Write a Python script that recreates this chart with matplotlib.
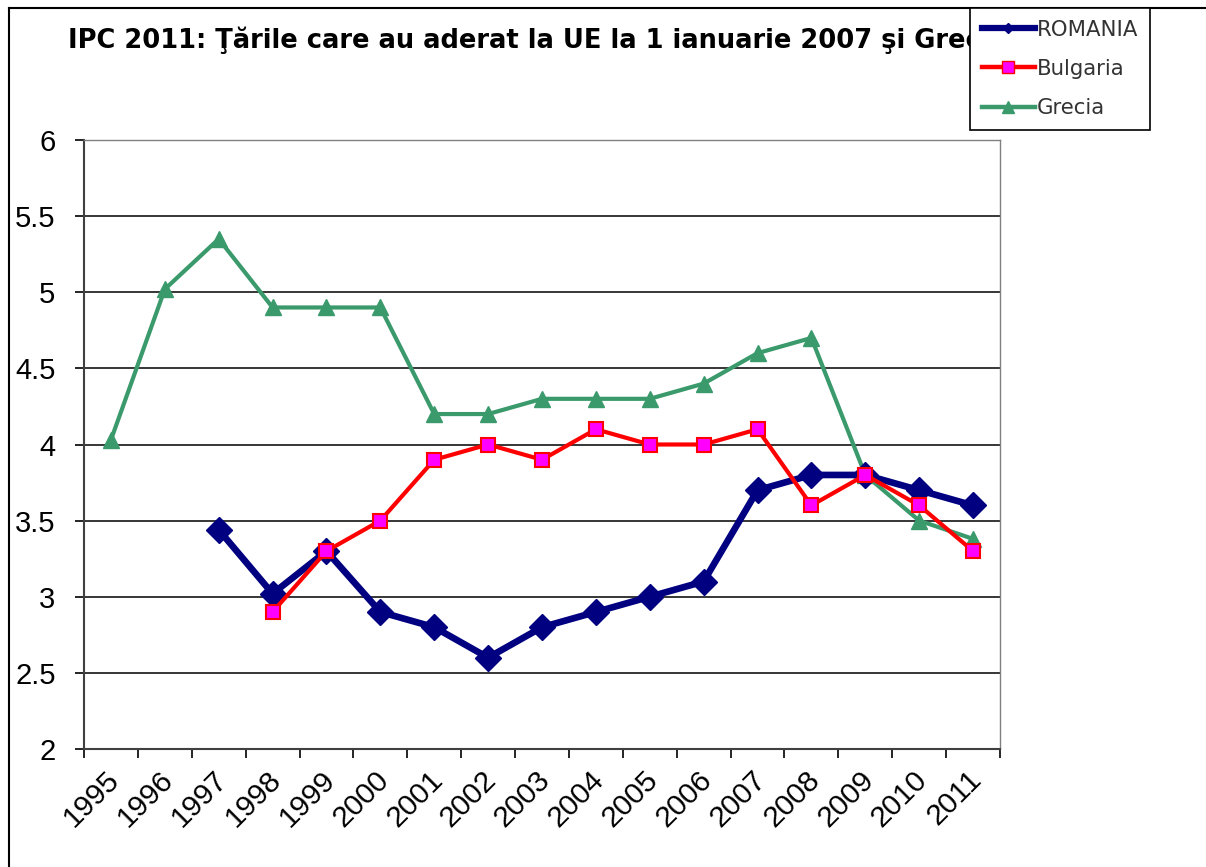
import numpy as np
import matplotlib
matplotlib.use('Agg')
from matplotlib import pyplot as plt
from matplotlib.lines import Line2D
import matplotlib.transforms as mtransforms

years = ['1995', '1996', '1997', '1998', '1999', '2000', '2001', '2002', '2003',
         '2004', '2005', '2006', '2007', '2008', '2009', '2010', '2011']
nan = np.nan
romania = [nan, nan, 3.44, 3.02, 3.3, 2.9, 2.8, 2.6, 2.8,
           2.9, 3.0, 3.1, 3.7, 3.8, 3.8, 3.7, 3.6]
bulgaria = [nan, nan, nan, 2.9, 3.3, 3.5, 3.9, 4.0, 3.9,
            4.1, 4.0, 4.0, 4.1, 3.6, 3.8, 3.6, 3.3]
grecia = [4.03, 5.02, 5.35, 4.9, 4.9, 4.9, 4.2, 4.2, 4.3,
          4.3, 4.3, 4.4, 4.6, 4.7, 3.8, 3.5, 3.38]
yticks = [2, 2.5, 3, 3.5, 4, 4.5, 5, 5.5, 6]
title = 'IPC 2011: Ţările care au aderat la UE la 1 ianuarie 2007 şi Grecia'

W, H = 1206, 867
fig = plt.figure(figsize=(W / 100, H / 100), dpi=100)
ax = fig.add_axes([84 / W, 1 - 749 / H, (1000 - 84) / W, (749 - 140) / H])

x = np.arange(len(years))
green = '#3A9A6C'
navy = '#000080'

ax.plot(x, romania, color=navy, lw=4.8, marker='D', ms=13,
        mfc=navy, mec=navy, zorder=3, label='ROMANIA')
ax.plot(x, bulgaria, color='#FF0000', lw=3, marker='s', ms=10,
        mfc='#FF00FF', mec='#FF0000', mew=1.5, zorder=4, label='Bulgaria')
ax.plot(x, grecia, color=green, lw=3, marker='^', ms=11,
        mfc=green, mec=green, zorder=2, label='Grecia')

ax.set_ylim(2, 6)
ax.set_xlim(-0.5, len(years) - 0.5)
ax.set_yticks(yticks)
ax.set_yticklabels(['2', '2.5', '3', '3.5', '4', '4.5', '5', '5.5', '6'],
                   family='Liberation Sans', fontsize=21)
ax.yaxis.grid(True, color='black', lw=1.1)
ax.set_axisbelow(True)

# category boundaries get the tick marks, centres get the labels
ax.set_xticks(np.arange(len(years) + 1) - 0.5)
ax.set_xticklabels([])
ax.set_xticks(x, minor=True)
ax.set_xticklabels(years, minor=True, rotation=45, ha='right', va='center',
                   rotation_mode='anchor', family='Liberation Sans', fontsize=21.5)
ax.tick_params(axis='x', which='minor', length=0, pad=19)
ax.tick_params(axis='x', which='major', length=6.5, width=1.2, direction='out')
ax.tick_params(axis='y', length=6.5, width=1.2, direction='out', pad=14)
shift = mtransforms.ScaledTranslation(4 / 100, 0, fig.dpi_scale_trans)
for lab in ax.get_xticklabels(minor=True):
    lab.set_transform(lab.get_transform() + shift)

for s in ['top', 'right']:
    ax.spines[s].set_color('#808080')
    ax.spines[s].set_linewidth(1.0)
for s in ['left', 'bottom']:
    ax.spines[s].set_color('#404040')
    ax.spines[s].set_linewidth(1.5)

fig.text(68 / W, 1 - 48 / H, title, fontsize=18.5, fontweight='bold',
         family='DejaVu Sans', va='baseline', ha='left')

# outer frame (top and left edges visible)
fig.add_artist(Line2D([9 / W, 9 / W], [0, 1 - 8 / H], transform=fig.transFigure,
                      color='black', lw=1.5))
fig.add_artist(Line2D([9 / W, 1], [1 - 8 / H, 1 - 8 / H], transform=fig.transFigure,
                      color='black', lw=1.5))

handles = [
    Line2D([], [], color=navy, lw=4.5, marker='D', ms=5, mfc=navy, mec=navy),
    Line2D([], [], color='#FF0000', lw=3.2, marker='s', ms=8, mfc='#FF00FF', mec='#FF0000'),
    Line2D([], [], color=green, lw=3.2, marker='^', ms=8, mfc=green, mec=green),
]
leg = fig.legend(handles, ['ROMANIA', 'Bulgaria', 'Grecia'], loc='upper left',
                 bbox_to_anchor=(970 / W, 1 - 8 / H), fancybox=False,
                 edgecolor='black', framealpha=1,
                 prop={'family': 'DejaVu Sans', 'size': 15.3},
                 handlelength=2.5, handletextpad=0.1, labelspacing=0.9,
                 borderpad=0.55, borderaxespad=0)
leg.get_frame().set_linewidth(1.2)
for t in leg.get_texts():
    t.set_color('#333333')
leg.set_zorder(10)

fig.savefig('out.png', dpi=100, facecolor='white')
